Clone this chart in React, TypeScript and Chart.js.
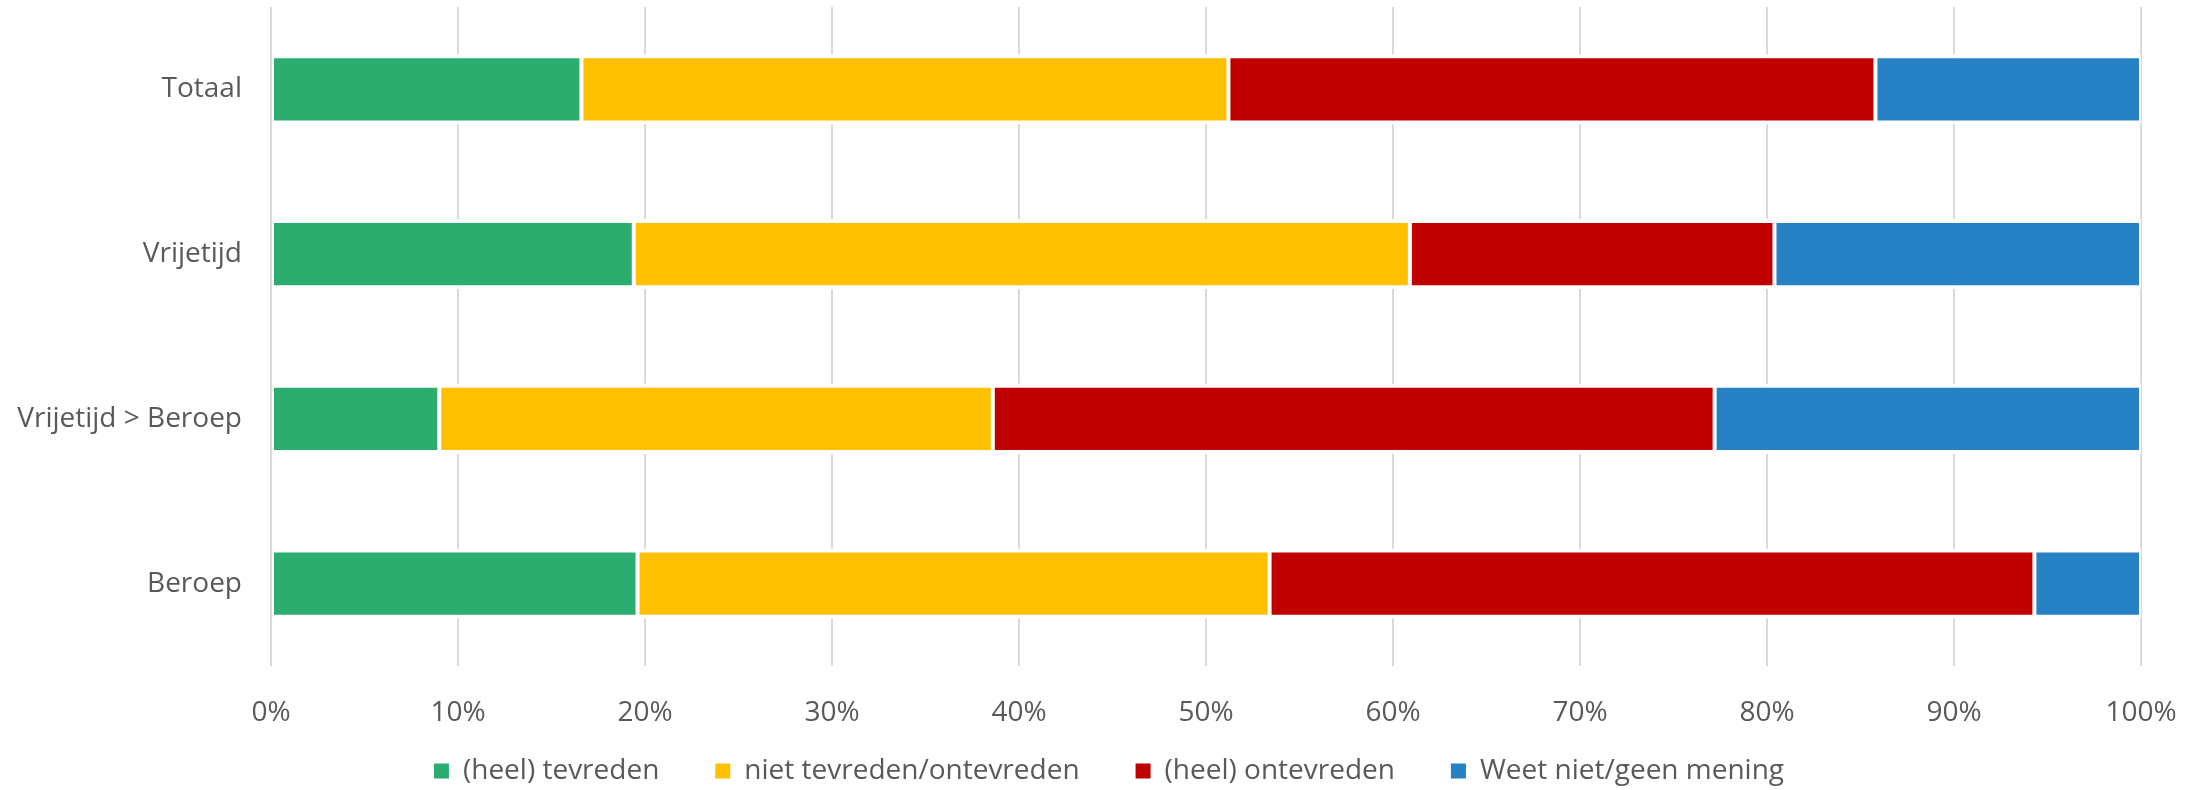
import React, { useEffect, useRef } from "react";
import { Chart, registerables } from "chart.js";

Chart.register(...registerables);

const categories = ["Totaal", "Vrijetijd", "Vrijetijd > Beroep", "Beroep"];
const seriesNames = [
  "(heel) tevreden",
  "niet tevreden/ontevreden",
  "(heel) ontevreden",
  "Weet niet/geen mening",
];
const tevreden = [16.6, 19.4, 9.0, 19.6];
const nietTevredenOntevreden = [34.6, 41.5, 29.6, 33.8];
const ontevreden = [34.6, 19.5, 38.6, 40.9];
const weetNiet = [14.2, 19.6, 22.8, 5.7];
const seriesColors = ["#2BAD70", "#FFC000", "#C00000", "#2681C5"];
const xTickValues = [0, 10, 20, 30, 40, 50, 60, 70, 80, 90, 100];
const xTickSuffix = "%";

const W = 2203;
const H = 790;

export default function App() {
  const ref = useRef<HTMLCanvasElement | null>(null);

  useEffect(() => {
    if (!ref.current) return;
    Chart.defaults.font.family = "'Open Sans', 'DejaVu Sans', sans-serif";
    Chart.defaults.font.size = 28;
    Chart.defaults.color = "#595959";

    const seriesValues = [tevreden, nietTevredenOntevreden, ontevreden, weetNiet];
    const datasets = seriesValues.map((vals, i) => ({
      label: seriesNames[i],
      data: vals,
      backgroundColor: seriesColors[i],
      borderColor: "#FFFFFF",
      borderWidth: { top: 4, bottom: 4, left: 2, right: 2 },
      borderSkipped: false as const,
      categoryPercentage: 1,
      barPercentage: 0.425,
    }));

    const noLabelClip = (scale: any) => {
      scale._computeLabelArea = () => undefined;
    };

    const chart = new Chart(ref.current, {
      type: "bar",
      data: { labels: categories, datasets },
      options: {
        indexAxis: "y",
        responsive: false,
        animation: false,
        layout: { padding: { top: 7, right: 0, bottom: -5, left: 15 } },
        scales: {
          x: {
            stacked: true,
            min: 0,
            max: 100,
            afterBuildTicks: (scale: any) => {
              scale.ticks = xTickValues.map((v) => ({ value: v }));
            },
            afterFit: (scale: any) => {
              scale.height = 35;
              scale.paddingRight = 62;
              noLabelClip(scale);
            },
            grid: { color: "#D9D9D9", lineWidth: 2, drawTicks: false },
            border: { display: false },
            ticks: {
              padding: 30,
              color: "#595959",
              font: { size: 28 },
              callback: (v: any) => v + xTickSuffix,
            },
          },
          y: {
            stacked: true,
            afterFit: (scale: any) => {
              scale.width = 256;
              scale.paddingTop = 0;
              scale.paddingBottom = 0;
              noLabelClip(scale);
            },
            grid: { display: false, drawTicks: false },
            border: { display: false },
            ticks: { padding: 29, color: "#595959", font: { size: 28 } },
          },
        },
        plugins: {
          legend: {
            position: "bottom",
            labels: {
              boxWidth: 15,
              boxHeight: 15,
              padding: 56,
              color: "#595959",
              font: { size: 28 },
              generateLabels: (c: any) =>
                Chart.defaults.plugins.legend.labels
                  .generateLabels(c)
                  .map((l: any) => ({ ...l, lineWidth: 0, strokeStyle: "rgba(0,0,0,0)" })),
            },
          },
          tooltip: { enabled: false },
        },
      },
    });
    return () => chart.destroy();
  }, []);

  return (
    <div style={{ position: "absolute", left: 0, top: 0, width: W, height: H, background: "#fff" }}>
      <canvas ref={ref} width={W} height={H} style={{ display: "block", width: W, height: H }} />
    </div>
  );
}
